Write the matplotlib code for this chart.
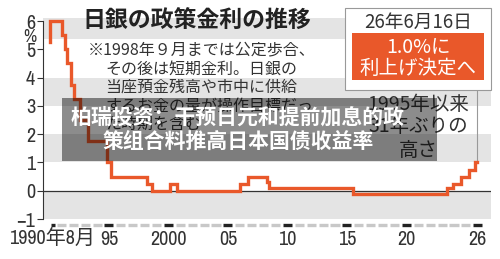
import matplotlib
matplotlib.use('Agg')
import matplotlib.pyplot as plt
from matplotlib import font_manager
from matplotlib.patches import Rectangle

# policy rate, step series (x in decimal years)
years = [1990.55, 1990.55, 1991.55, 1991.85, 1992.0, 1992.3, 1992.55, 1993.1,
         1993.72, 1995.3, 1995.7, 1998.7, 1999.15, 2000.62, 2001.2, 2006.54,
         2007.15, 2008.82, 2008.97, 2016.0, 2023.95, 2024.45, 2025.1, 2025.78,
         2026.28, 2026.45]
rates = [5.25, 6.0, 5.5, 5.0, 4.5, 3.75, 3.25, 2.5,
         1.75, 1.0, 0.5, 0.25, 0.0, 0.25, 0.0, 0.25,
         0.5, 0.3, 0.1, -0.1, 0.1, 0.25, 0.5, 0.75,
         1.0, 1.0]

tick_pos = [1990.7, 1995.5, 2000.5, 2005.5, 2010.5, 2015.5, 2020.5, 2026.5]
tick_labels = ['1990年8月', '95', '2000', '05', '10', '15', '20', '26']
dark_years = [1990, 1995, 2000, 2005, 2010, 2015, 2020, 2026]
y_ticks = [6, 5, 4, 3, 2, 1, 0, -1]
y_labels = ['6', '5', '4', '3', '2', '1', '0', '−1']
bands = [(-1, 0), (1, 2), (3, 4), (5.35, 6.1)]

ORANGE = '#E9582A'
GRAY = '#e4e4e4'
TXT = '#333333'

# look for a narrow/condensed face for the numbers
narrow, stretch = 'Liberation Sans', 'normal'
for f in font_manager.fontManager.ttflist:
    if 'Narrow' in f.name:
        narrow, stretch = f.name, 'normal'
        break
    if str(f.stretch) in ('condensed', 'semi-condensed', '75', '87') and f.name.startswith('DejaVu Sans') \
            and 'Mono' not in f.name and f.weight in ('normal', 400, 'regular'):
        narrow, stretch = f.name, f.stretch
num_font = [narrow, 'Noto Sans CJK JP', 'DejaVu Sans']
jp_font = ['Noto Sans CJK JP', 'DejaVu Sans']
sc_font = ['Noto Sans CJK SC', 'DejaVu Sans']
num_size = 14.5 if narrow != 'Liberation Sans' else 13

fig = plt.figure(figsize=(5.0, 2.59), dpi=100)
ax = fig.add_axes([0.086, 0.15444, 0.896, 0.7753])
ax.set_xlim(1989.96, 2027.61)
ax.set_ylim(-1, 6.1)

for lo, hi in bands:
    ax.axhspan(lo, hi, color=GRAY, lw=0, zorder=0)
ax.axhline(0, color=TXT, lw=0.9, zorder=1)

ax.plot(years, rates, drawstyle='steps-post', color=ORANGE, lw=2.4,
        solid_joinstyle='miter', zorder=3)

# leader line from the callout box to the last point
ax.plot([years[-1], years[-1]], [rates[-1], 3.57], color='#999999', lw=0.8,
        clip_on=False, zorder=2)

# year dashes under the plot
for y in range(1990, 2027):
    x0, x1 = (y + 0.65, y + 0.95) if y == 1990 else (y + 0.12, y + 0.88)
    c = '#222222' if y in dark_years else '#c8c8c8'
    ax.plot([x0, x1], [-1.21, -1.21], color=c, lw=2.4, solid_capstyle='butt',
            clip_on=False)

for s in ['top', 'right', 'bottom']:
    ax.spines[s].set_visible(False)
ax.spines['left'].set_bounds(-1, 6)
ax.spines['left'].set_color(TXT)
ax.spines['left'].set_linewidth(0.8)

ax.set_yticks(y_ticks)
ax.set_yticklabels(y_labels, family=num_font, stretch=stretch, fontsize=num_size, color=TXT)
ax.tick_params(axis='y', length=4.3, width=0.8, color=TXT, pad=1.4)
ax.set_xticks(tick_pos)
ax.set_xticklabels(tick_labels, family=num_font, stretch=stretch, fontsize=num_size, color=TXT)
ax.tick_params(axis='x', length=0, pad=8)

ax.text(-0.029, 5.42, '%', transform=ax.get_yaxis_transform(), ha='center',
        va='center', family=num_font, fontsize=13, color=TXT)

# title and note
fig.text(82 / 500, 1 - 21 / 259, '日銀の政策金利の推移', family=jp_font,
         fontweight='bold', fontsize=16.5, color='#222222', va='center')
note = ['※1998年９月までは公定歩合、', 'その後は短期金利。日銀の',
        '当座預金残高や市中に供給', 'するお金の量が操作目標だっ', 'た時期を含む']
note_y = [50, 69, 87, 106, 124]
for i, (line, py) in enumerate(zip(note, note_y)):
    px = 88 if i == 0 else 105
    fig.text(px / 500, 1 - py / 259, line, family=jp_font, fontsize=11.5,
             color=TXT, va='center')

# callout box
fig.patches.append(Rectangle((345 / 500, 1 - 90 / 259), 146 / 500, 82 / 259,
                             transform=fig.transFigure, facecolor='white',
                             edgecolor='#999999', lw=0.8, zorder=5))
fig.patches.append(Rectangle((352 / 500, 1 - 80 / 259), 132 / 500, 47 / 259,
                             transform=fig.transFigure, facecolor=ORANGE,
                             edgecolor='none', zorder=6))
fig.text(418 / 500, 1 - 22 / 259, '26年6月16日', family=jp_font, fontsize=13.5,
         color=TXT, ha='center', va='center', zorder=7)
fig.text(418 / 500, 1 - 48 / 259, '1.0%に', family=jp_font, fontsize=14,
         color='white', ha='center', va='center', zorder=7)
fig.text(418 / 500, 1 - 68 / 259, '利上げ決定へ', family=jp_font, fontsize=14,
         color='white', ha='center', va='center', zorder=7)
for line, py in zip(['1995年以来', '31年ぶりの', '高さ'], [104, 127, 150]):
    fig.text(418 / 500, 1 - py / 259, line, family=jp_font, fontsize=14,
             color=TXT, ha='center', va='center')

# translucent headline overlay
fig.patches.append(Rectangle((62 / 500, 1 - 161 / 259), 375 / 500, 63 / 259,
                             transform=fig.transFigure, facecolor='black',
                             alpha=0.45, edgecolor='none', zorder=8))
fig.text(238 / 500, 1 - 129.5 / 259, '柏瑞投资：干预日元和提前加息的政\n策组合料推高日本国债收益率',
         family=sc_font, fontweight='bold', fontsize=15, color='white',
         ha='center', va='center', linespacing=1.2, zorder=9)

fig.savefig('out.png', dpi=100)
